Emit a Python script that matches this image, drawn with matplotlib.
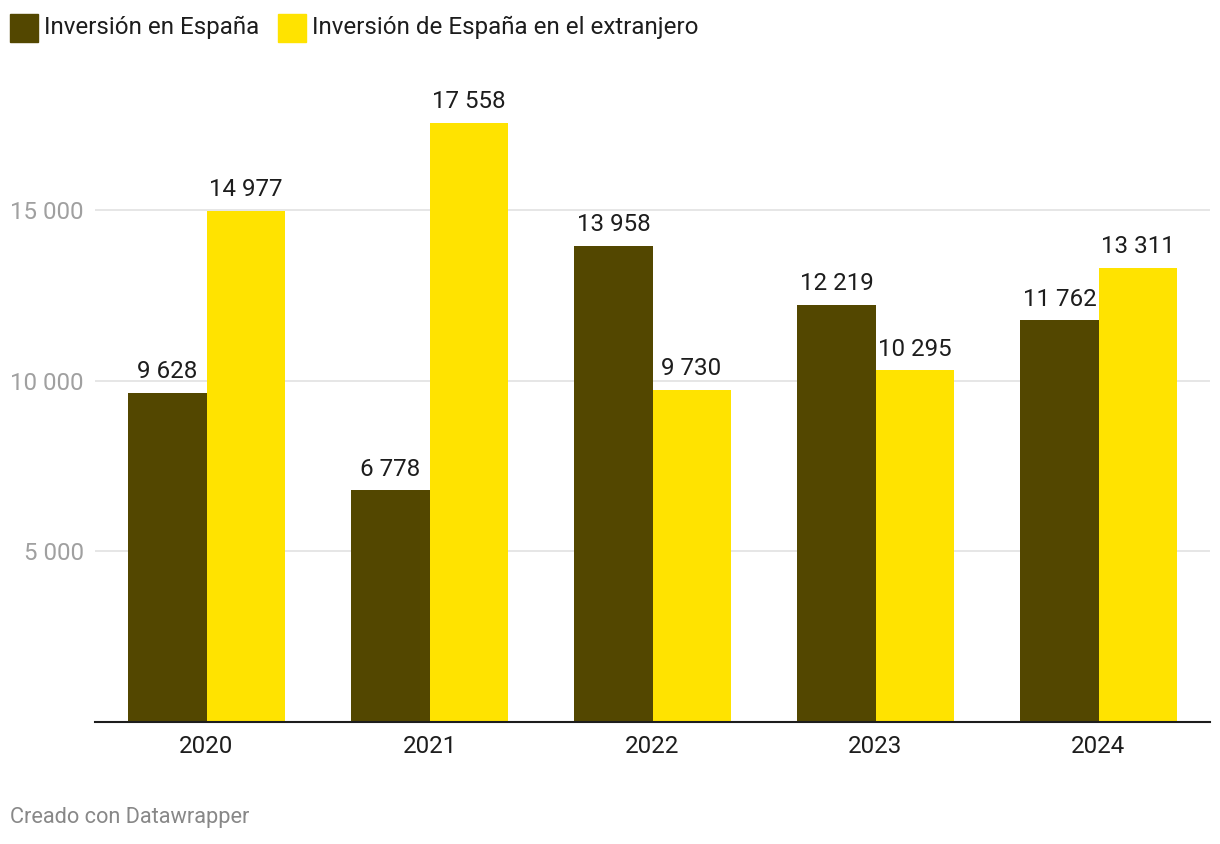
import numpy as np
import matplotlib.pyplot as plt
from matplotlib.patches import Rectangle

plt.rcParams['font.family'] = ['Roboto', 'DejaVu Sans']

years = ['2020', '2021', '2022', '2023', '2024']
inv_espana = [9628, 6778, 13958, 12219, 11762]
inv_extranjero = [14977, 17558, 9730, 10295, 13311]
series_names = ['Inversión en España', 'Inversión de España en el extranjero']
colors = ['#534700', '#ffe300']
yticks = [5000, 10000, 15000]


def fmt(v):
    return '{:,}'.format(v).replace(',', ' ')


W, H = 1220, 844
fs = 17.4
fig = plt.figure(figsize=(W / 100, H / 100), dpi=100)
ax = fig.add_axes([95 / W, (H - 721.5) / H, 1115 / W, 661.5 / H])

x = np.arange(len(years))
bw = 0.35
bars1 = ax.bar(x - bw / 2, inv_espana, bw, color=colors[0], zorder=3)
bars2 = ax.bar(x + bw / 2, inv_extranjero, bw, color=colors[1], zorder=3)

for bars, vals in [(bars1, inv_espana), (bars2, inv_extranjero)]:
    for b, v in zip(bars, vals):
        ax.annotate(fmt(v), (b.get_x() + b.get_width() / 2, v),
                    xytext=(0, 7), textcoords='offset points',
                    ha='center', va='bottom', fontsize=fs, color='#1d1d1d')

ax.set_xlim(-0.5, len(years) - 0.5)
ax.set_ylim(0, 19400)
ax.set_xticks(x)
ax.set_xticklabels(years, fontsize=fs, color='#1d1d1d')
ax.set_yticks(yticks)
ax.set_yticklabels([fmt(t) for t in yticks], fontsize=fs, color='#a0a0a0')
ax.tick_params(axis='both', length=0)
ax.tick_params(axis='x', pad=10)
ax.tick_params(axis='y', pad=8)
ax.grid(axis='y', color='#e2e2e2', linewidth=1.2, zorder=0)
for s in ['top', 'right', 'left']:
    ax.spines[s].set_visible(False)
ax.spines['bottom'].set_color('#1d1d1d')
ax.spines['bottom'].set_linewidth(1.5)
ax.spines['bottom'].set_zorder(4)

# legend
for name, c, lx in zip(series_names, colors, [10, 278]):
    fig.patches.append(Rectangle((lx / W, (H - 42) / H), 28 / W, 28 / H,
                                 transform=fig.transFigure, color=c))
    fig.text((lx + 34) / W, (H - 27) / H, name, fontsize=fs,
             color='#1d1d1d', va='center', ha='left')

fig.text(10 / W, (H - 818) / H, 'Creado con Datawrapper', fontsize=15.7,
         color='#888888', va='center', ha='left')

plt.savefig('out.png', dpi=100)
